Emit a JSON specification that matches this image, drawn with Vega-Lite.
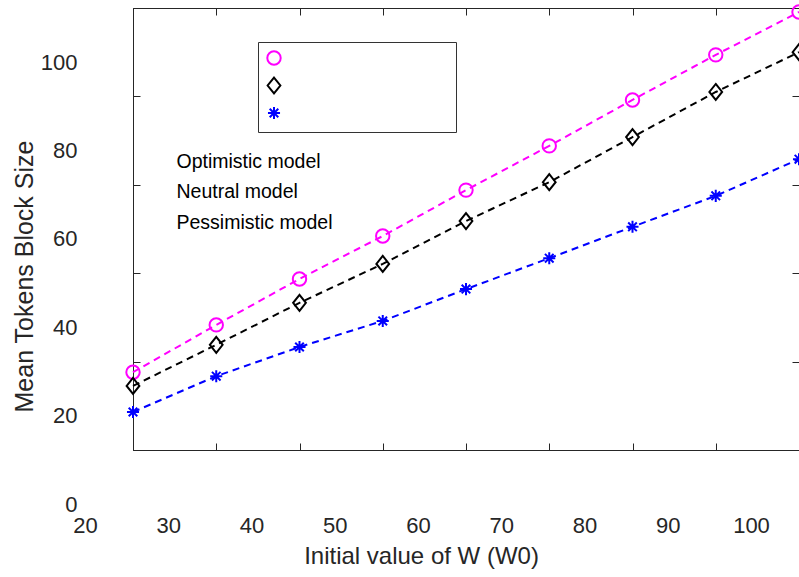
{
  "$schema": "https://vega.github.io/schema/vega-lite/v6.json",
  "width": 666,
  "height": 442,
  "autosize": {"type": "none"},
  "padding": {"left": 133, "top": 8, "right": 0, "bottom": 127},
  "background": "white",
  "config": {
    "view": {"stroke": "#262626", "strokeWidth": 1},
    "font": "Liberation Sans",
    "axis": {"grid": false, "labelFlush": false, "labelOverlap": false, "tickColor": "#262626", "domainColor": "#262626", "labelColor": "#262626", "titleColor": "#262626", "titleFontWeight": "normal", "tickWidth": 1, "domainWidth": 1}
  },
  "data": {"values": [
    {"model": "Optimistic model", "W0": 20, "size": 17.6},
    {"model": "Optimistic model", "W0": 30, "size": 28.3},
    {"model": "Optimistic model", "W0": 40, "size": 38.7},
    {"model": "Optimistic model", "W0": 50, "size": 48.4},
    {"model": "Optimistic model", "W0": 60, "size": 58.8},
    {"model": "Optimistic model", "W0": 70, "size": 68.8},
    {"model": "Optimistic model", "W0": 80, "size": 79.2},
    {"model": "Optimistic model", "W0": 90, "size": 89.4},
    {"model": "Optimistic model", "W0": 100, "size": 99.1},
    {"model": "Neutral model", "W0": 20, "size": 14.5},
    {"model": "Neutral model", "W0": 30, "size": 23.8},
    {"model": "Neutral model", "W0": 40, "size": 33.3},
    {"model": "Neutral model", "W0": 50, "size": 42.1},
    {"model": "Neutral model", "W0": 60, "size": 51.8},
    {"model": "Neutral model", "W0": 70, "size": 60.6},
    {"model": "Neutral model", "W0": 80, "size": 70.8},
    {"model": "Neutral model", "W0": 90, "size": 81.0},
    {"model": "Neutral model", "W0": 100, "size": 90.0},
    {"model": "Pessimistic model", "W0": 20, "size": 8.6},
    {"model": "Pessimistic model", "W0": 30, "size": 16.7},
    {"model": "Pessimistic model", "W0": 40, "size": 23.3},
    {"model": "Pessimistic model", "W0": 50, "size": 29.2},
    {"model": "Pessimistic model", "W0": 60, "size": 36.4},
    {"model": "Pessimistic model", "W0": 70, "size": 43.4},
    {"model": "Pessimistic model", "W0": 80, "size": 50.5},
    {"model": "Pessimistic model", "W0": 90, "size": 57.5},
    {"model": "Pessimistic model", "W0": 100, "size": 65.8}
  ]},
  "layer": [
    {
      "mark": {"type": "line", "strokeDash": [7, 5], "strokeWidth": 2},
      "encoding": {
        "x": {"field": "W0", "type": "quantitative", "scale": {"domain": [20, 100], "nice": false},
          "axis": {"orient": "bottom", "values": [20, 30, 40, 50, 60, 70, 80, 90, 100], "tickSize": -7, "labelFontSize": 22, "labelOffset": -48, "labelPadding": 72,
            "title": "Initial value of W (W0)", "titleFontSize": 24, "titleX": 288, "titleY": 113, "titleAlign": "center", "titleBaseline": "alphabetic"}},
        "y": {"field": "size", "type": "quantitative", "scale": {"domain": [0, 100], "nice": false},
          "axis": {"orient": "left", "values": [0, 20, 40, 60, 80, 100], "tickSize": -7, "labelFontSize": 22, "labelOffset": 54, "labelPadding": 63,
            "title": "Mean Tokens Block Size", "titleFontSize": 25, "titleAngle": -90, "titleX": -101, "titleY": 268, "titleAlign": "center", "titleBaseline": "alphabetic"}},
        "color": {"field": "model", "type": "nominal",
          "scale": {"domain": ["Optimistic model", "Neutral model", "Pessimistic model"], "range": ["#FF00FF", "#000000", "#0000FF"]},
          "legend": {"orient": "none", "legendX": 24, "legendY": 144, "title": null, "padding": 0, "symbolOpacity": 0, "symbolSize": 0, "symbolStrokeWidth": 0, "labelOffset": 0, "labelFontSize": 19.5, "labelColor": "#000000", "rowPadding": 9.5}}
      }
    },
    {
      "mark": {"type": "point", "filled": false, "strokeWidth": 2, "opacity": 1, "size": 180},
      "encoding": {
        "x": {"field": "W0", "type": "quantitative",
          "axis": {"orient": "top", "values": [20, 30, 40, 50, 60, 70, 80, 90, 100], "tickSize": -7, "labels": false, "domain": false, "title": null}},
        "y": {"field": "size", "type": "quantitative",
          "axis": {"orient": "right", "values": [0, 20, 40, 60, 80, 100], "tickSize": -7, "labels": false, "domain": false, "title": null}},
        "color": {"field": "model", "type": "nominal",
          "legend": {"orient": "none", "legendX": 125, "legendY": 34, "title": null, "padding": 8, "strokeColor": "#333333", "fillColor": "white", "labelExpr": "''", "labelOffset": 166, "labelFontSize": 10, "symbolSize": 180, "symbolStrokeWidth": 2, "rowPadding": 4.5}},
        "shape": {"field": "model", "type": "nominal",
          "scale": {"domain": ["Optimistic model", "Neutral model", "Pessimistic model"], "range": ["circle", "M0,-1.19L0.95,0L0,1.19L-0.95,0Z", "M-0.9,0L0.9,0M0,-0.9L0,0.9M-0.64,-0.64L0.64,0.64M-0.64,0.64L0.64,-0.64"]},
          "legend": {"orient": "none", "legendX": 125, "legendY": 34, "title": null, "padding": 8, "strokeColor": "#333333", "fillColor": "white", "labelExpr": "''", "labelOffset": 166, "labelFontSize": 10, "symbolSize": 180, "symbolStrokeWidth": 2, "rowPadding": 4.5}}
      }
    }
  ],
  "resolve": {"axis": {"x": "independent", "y": "independent"}, "legend": {"color": "independent", "shape": "independent"}}
}
